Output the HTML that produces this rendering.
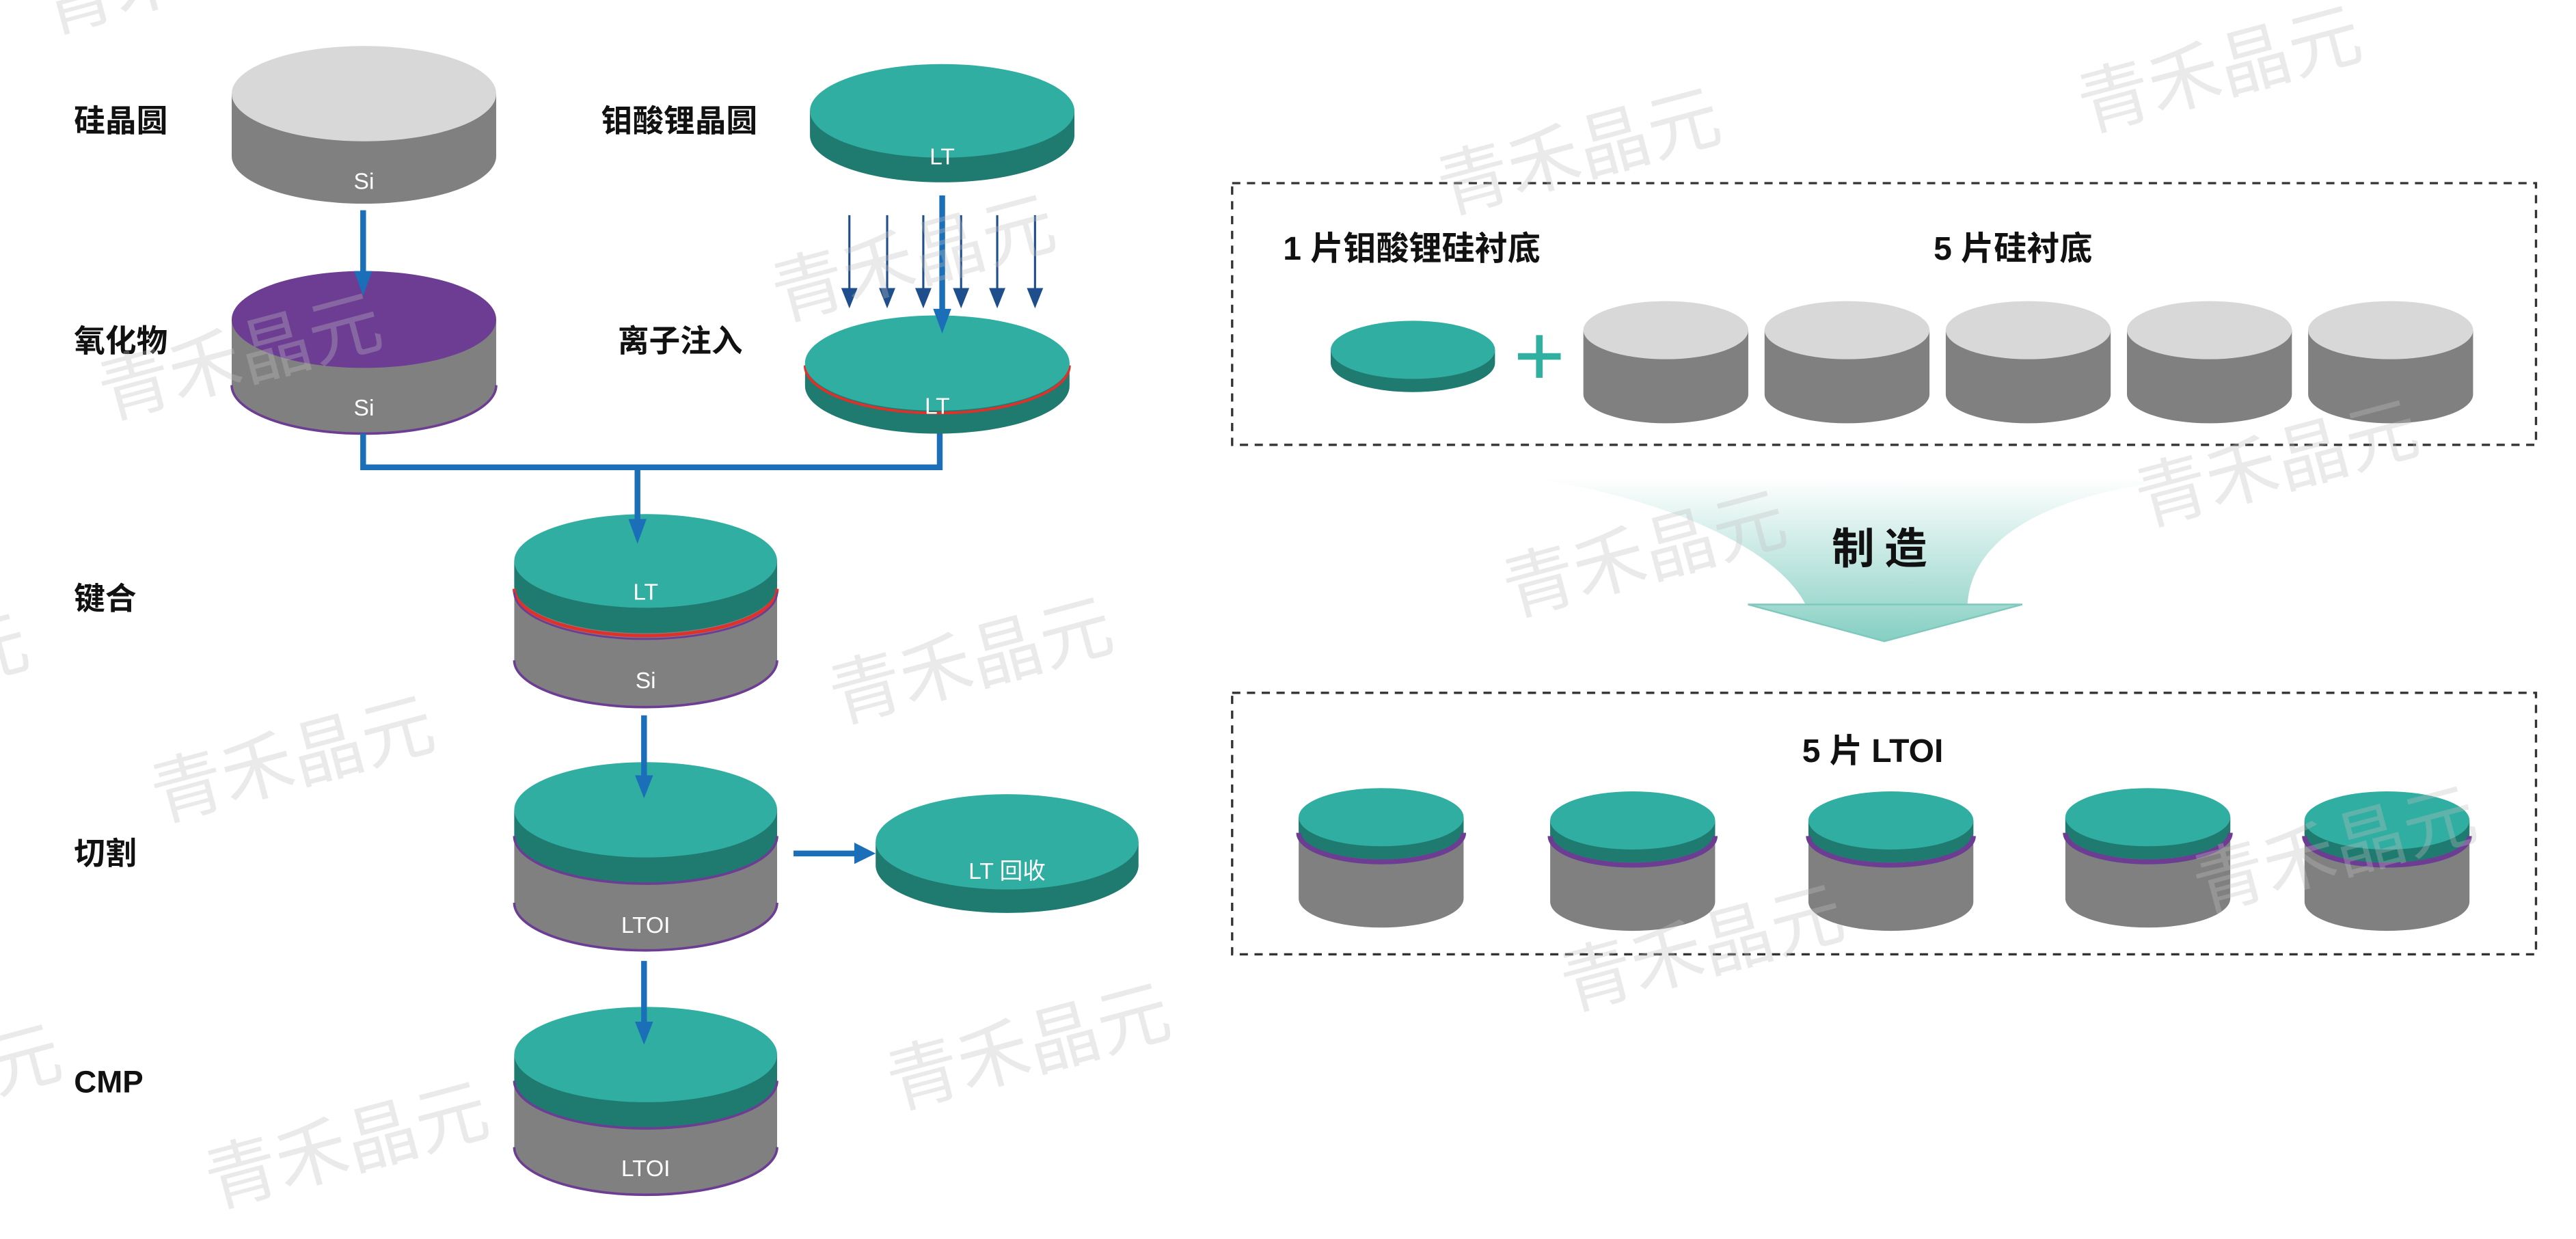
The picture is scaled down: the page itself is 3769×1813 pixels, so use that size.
<!DOCTYPE html>
<html><head><meta charset="utf-8">
<style>
html,body{margin:0;padding:0;background:#fff;}
svg{display:block;}
text{font-family:"Liberation Sans","Noto Sans CJK SC",sans-serif;}
.lb{font-size:19px;font-weight:bold;fill:#111;}
.wt{font-size:14px;fill:#fff;}
.wm{font-size:44px;fill:rgba(190,190,190,0.33);font-family:"Noto Sans CJK SC",sans-serif;}
</style></head>
<body>
<svg width="3769" height="1813" viewBox="0 0 1568 754.3" xmlns="http://www.w3.org/2000/svg">
<defs>
<linearGradient id="fg" x1="0" y1="0" x2="0" y2="1">
<stop offset="0" stop-color="#ffffff"/>
<stop offset="1" stop-color="#86cfc3"/>
</linearGradient>
<g id="gc">
<path d="M-50.2,201 L-50.2,240 A50.2,17.7 0 0 0 50.2,240 L50.2,201 Z" fill="#808080"/>
<ellipse cx="0" cy="201" rx="50.2" ry="17.7" fill="#d9d8d9"/>
</g>
<g id="lc">
<path d="M-50.2,497.5 L-50.2,547 A50.2,17.7 0 0 0 50.2,547 L50.2,497.5 Z" fill="#808080"/>
<path d="M-50.2,497.5 L-50.2,505.5 A50.2,17.7 0 0 0 50.2,505.5 L50.2,497.5 Z" fill="#1f7a70"/>
<path d="M-50.2,507 A50.2,17.7 0 0 0 50.2,507" fill="none" stroke="#6c3d93" stroke-width="3"/>
<ellipse cx="0" cy="497.5" rx="50.2" ry="17.7" fill="#30aea1"/>
</g>
</defs>

<!-- cylinders -->
<path d="M141,57 L141,95 A80.5,29 0 0 0 302,95 L302,57 Z" fill="#808080"/>
<ellipse cx="221.5" cy="57" rx="80.5" ry="29" fill="#d9d8d9"/>

<path d="M493,67.5 L493,82.5 A80.5,28.5 0 0 0 654,82.5 L654,67.5 Z" fill="#1f7a70"/>
<ellipse cx="573.5" cy="67.5" rx="80.5" ry="28.5" fill="#30aea1"/>

<path d="M141,194.5 L141,234.5 A80.5,29.5 0 0 0 302,234.5 L302,194.5 Z" fill="#808080"/>
<path d="M141,234.5 A80.5,29.5 0 0 0 302,234.5" fill="none" stroke="#6c3d93" stroke-width="1.5"/>
<ellipse cx="221.5" cy="194.5" rx="80.5" ry="29.5" fill="#6c3d93"/>

<path d="M490,221 L490,235 A80.5,29 0 0 0 651,235 L651,221 Z" fill="#1f7a70"/>
<path d="M490,222.5 A80.5,29 0 0 0 651,222.5" fill="none" stroke="#e0302a" stroke-width="1.6"/>
<ellipse cx="570.5" cy="221" rx="80.5" ry="29" fill="#30aea1"/>

<path d="M313,341.5 L313,402 A80,28.5 0 0 0 473,402 L473,341.5 Z" fill="#808080"/>
<path d="M313,341.5 L313,357 A80,28.5 0 0 0 473,357 L473,341.5 Z" fill="#1f7a70"/>
<path d="M313,358.5 A80,28.5 0 0 0 473,358.5" fill="none" stroke="#e0302a" stroke-width="2"/>
<path d="M313,360.5 A80,28.5 0 0 0 473,360.5" fill="none" stroke="#6c3d93" stroke-width="1.2"/>
<path d="M313,402 A80,28.5 0 0 0 473,402" fill="none" stroke="#6c3d93" stroke-width="1.5"/>
<ellipse cx="393" cy="341.5" rx="80" ry="28.5" fill="#30aea1"/>

<path d="M313,493 L313,549.6 A80,29 0 0 0 473,549.6 L473,493 Z" fill="#808080"/>
<path d="M313,493 L313,509 A80,29 0 0 0 473,509 L473,493 Z" fill="#1f7a70"/>
<path d="M313,509 A80,29 0 0 0 473,509" fill="none" stroke="#6c3d93" stroke-width="1.5"/>
<path d="M313,549.6 A80,29 0 0 0 473,549.6" fill="none" stroke="#6c3d93" stroke-width="1.5"/>
<ellipse cx="393" cy="493" rx="80" ry="29" fill="#30aea1"/>

<path d="M533,512.5 L533,526.8 A80,29 0 0 0 693,526.8 L693,512.5 Z" fill="#1f7a70"/>
<ellipse cx="613" cy="512.5" rx="80" ry="29" fill="#30aea1"/>

<path d="M313,642 L313,698.4 A80,29 0 0 0 473,698.4 L473,642 Z" fill="#808080"/>
<path d="M313,642 L313,658 A80,29 0 0 0 473,658 L473,642 Z" fill="#1f7a70"/>
<path d="M313,658 A80,29 0 0 0 473,658" fill="none" stroke="#6c3d93" stroke-width="1.5"/>
<path d="M313,698.4 A80,29 0 0 0 473,698.4" fill="none" stroke="#6c3d93" stroke-width="1.5"/>
<ellipse cx="393" cy="642" rx="80" ry="29" fill="#30aea1"/>

<path d="M810,213 L810,221 A50,17.7 0 0 0 910,221 L910,213 Z" fill="#1f7a70"/>
<ellipse cx="860" cy="213" rx="50" ry="17.7" fill="#30aea1"/>

<use href="#gc" transform="translate(1014,0)"/>
<use href="#gc" transform="translate(1124.3,0)"/>
<use href="#gc" transform="translate(1234.6,0)"/>
<use href="#gc" transform="translate(1344.9,0)"/>
<use href="#gc" transform="translate(1455.2,0)"/>

<use href="#lc" transform="translate(840.7,0)"/>
<use href="#lc" transform="translate(993.8,2)"/>
<use href="#lc" transform="translate(1151,2)"/>
<use href="#lc" transform="translate(1307.4,0)"/>
<use href="#lc" transform="translate(1453,2)"/>

<!-- connectors -->
<g stroke="#1a6fb8" stroke-width="3.5" fill="none">
<line x1="221" y1="128" x2="221" y2="168"/>
<line x1="573.5" y1="119" x2="573.5" y2="190"/>
<polyline points="221,264 221,284.5 572,284.5 572,264"/>
<line x1="388" y1="284.5" x2="388" y2="318"/>
<line x1="392" y1="435.5" x2="392" y2="474"/>
<line x1="392" y1="585" x2="392" y2="624"/>
<line x1="483" y1="519.6" x2="522" y2="519.6"/>
</g>
<g fill="#1a6fb8">
<path d="M215.5,165 L226.5,165 L221,180 Z"/>
<path d="M568,188 L579,188 L573.5,203 Z"/>
<path d="M382.5,316 L393.5,316 L388,331 Z"/>
<path d="M386.5,472 L397.5,472 L392,486 Z"/>
<path d="M386.5,622 L397.5,622 L392,636 Z"/>
<path d="M520,513 L520,526 L533,519.6 Z"/>
</g>
<g stroke="#1f4e8c" stroke-width="1.3" fill="#1f4e8c">
<line x1="517" y1="131" x2="517" y2="178"/><path d="M513,176 L521,176 L517,186 Z"/>
<line x1="540" y1="131" x2="540" y2="178"/><path d="M536,176 L544,176 L540,186 Z"/>
<line x1="562" y1="131" x2="562" y2="178"/><path d="M558,176 L566,176 L562,186 Z"/>
<line x1="585" y1="131" x2="585" y2="178"/><path d="M581,176 L589,176 L585,186 Z"/>
<line x1="607" y1="131" x2="607" y2="178"/><path d="M603,176 L611,176 L607,186 Z"/>
<line x1="630" y1="131" x2="630" y2="178"/><path d="M626,176 L634,176 L630,186 Z"/>
</g>

<!-- left labels -->
<text class="lb" x="45" y="80">硅晶圆</text>
<text class="lb" x="366" y="80">钼酸锂晶圆</text>
<text class="lb" x="45" y="214">氧化物</text>
<text class="lb" x="376" y="214">离子注入</text>
<text class="lb" x="45" y="371">键合</text>
<text class="lb" x="45" y="526">切割</text>
<text class="lb" x="45" y="665">CMP</text>

<g class="wt" text-anchor="middle">
<text x="221.5" y="115">Si</text>
<text x="573.5" y="100">LT</text>
<text x="221.5" y="253">Si</text>
<text x="570.5" y="252">LT</text>
<text x="393" y="365">LT</text>
<text x="393" y="419">Si</text>
<text x="393" y="568">LTOI</text>
<text x="613" y="535">LT 回收</text>
<text x="393" y="716">LTOI</text>
</g>

<!-- right side boxes -->
<g fill="none" stroke="#333" stroke-width="1.4" stroke-dasharray="5,4">
<rect x="750" y="111.5" width="793.7" height="159.3"/>
<rect x="750" y="421.8" width="793.7" height="159.2"/>
</g>
<text class="lb" x="781" y="158" style="font-size:20px">1 片钼酸锂硅衬底</text>
<text class="lb" x="1177" y="158" style="font-size:20px">5 片硅衬底</text>
<text class="lb" x="1097" y="464" style="font-size:20px">5 片  LTOI</text>
<g stroke="#2fb0a0" stroke-width="4">
<line x1="924" y1="217" x2="950" y2="217"/>
<line x1="937" y1="204" x2="937" y2="230"/>
</g>

<!-- funnel arrow -->
<path d="M930,291 L1337,291 C1240,300 1200,330 1197.6,368 L1231,368 L1147,390.4 L1064,368 L1099,368 C1080,330 1000,300 930,291 Z" fill="url(#fg)"/>
<path d="M1064,368 L1231,368 L1147,390.4 Z" fill="none" stroke="#7fc9bc" stroke-width="1"/>
<text class="lb" x="1147" y="343" text-anchor="middle" style="font-size:26px;letter-spacing:6px">制造</text>

<!-- watermarks -->
<g class="wm">
<text transform="translate(30,20) rotate(-15)">青禾晶元</text>
<text transform="translate(880,130) rotate(-15)">青禾晶元</text>
<text transform="translate(1270,80) rotate(-15)">青禾晶元</text>
<text transform="translate(475,195) rotate(-15)">青禾晶元</text>
<text transform="translate(65,255) rotate(-15)">青禾晶元</text>
<text transform="translate(920,375) rotate(-15)">青禾晶元</text>
<text transform="translate(1305,320) rotate(-15)">青禾晶元</text>
<text transform="translate(510,440) rotate(-15)">青禾晶元</text>
<text transform="translate(97,500) rotate(-15)">青禾晶元</text>
<text transform="translate(1340,555) rotate(-15)">青禾晶元</text>
<text transform="translate(955,615) rotate(-15)">青禾晶元</text>
<text transform="translate(545,675) rotate(-15)">青禾晶元</text>
<text transform="translate(130,735) rotate(-15)">青禾晶元</text>
<text transform="translate(-130,700) rotate(-15)">青禾晶元</text>
<text transform="translate(-150,450) rotate(-15)">青禾晶元</text>
</g>
</svg>
</body></html>
